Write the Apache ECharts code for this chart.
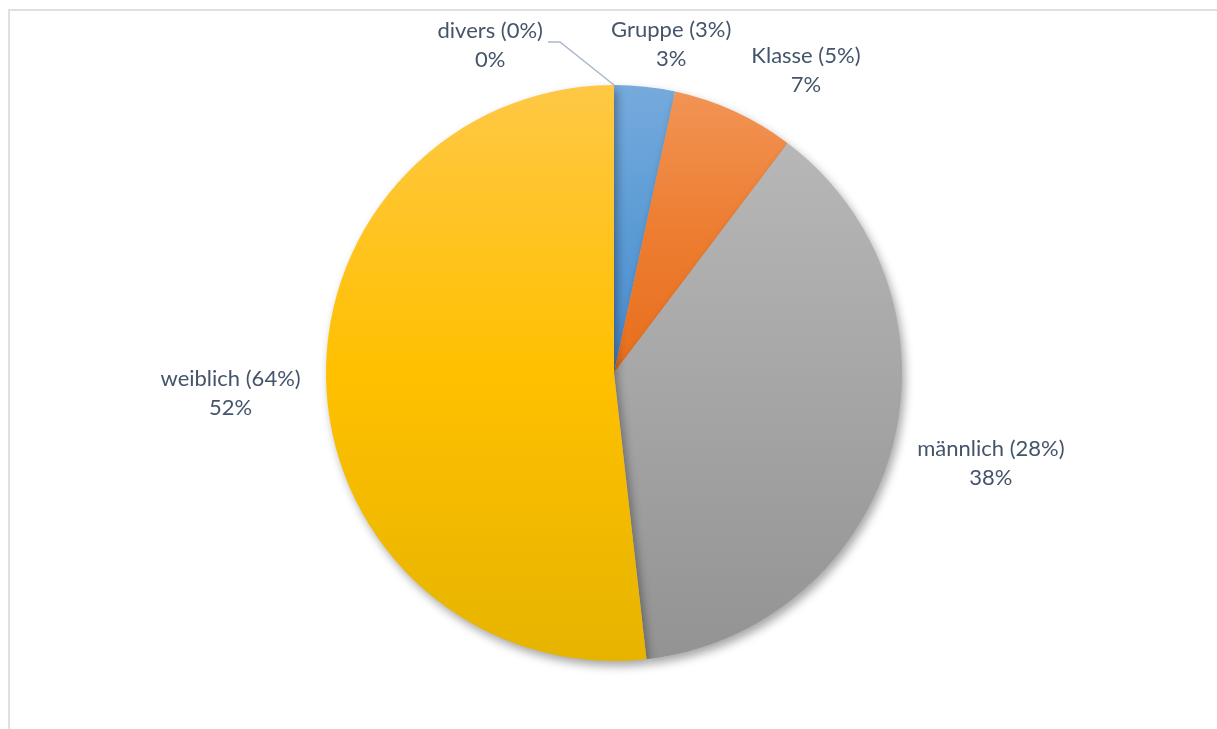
<!DOCTYPE html>
<html>
<head>
<meta charset="utf-8">
<title>Verteilung</title>
<script src="https://cdn.jsdelivr.net/npm/echarts@6/dist/echarts.min.js"></script>
<style>
  html, body { margin: 0; padding: 0; background: #fff; }
  #PieChart { width: 1217px; height: 729px; }
</style>
</head>
<body>
<div id="PieChart"></div>
<script>
/* 数据：分类名与数值 */
const categories = ['divers (0%)', 'Gruppe (3%)', 'Klasse (5%)', 'männlich (28%)', 'weiblich (64%)']
const values = [0, 3.4, 6.9, 37.9, 51.8]

/* 每个扇区的渐变色 [上, 中, 下] */
const sliceColors = [
  ['#76AADD', '#5B9BD5', '#4A8CD0'],
  ['#F29455', '#ED7D31', '#E86E1C'],
  ['#B7B7B7', '#A5A5A5', '#939393'],
  ['#FFC845', '#FFC000', '#E6B400']
]
// divers/Gruppe 蓝, Klasse 橙, männlich 灰, weiblich 黄
const colorIndex = [0, 0, 1, 2, 3]

/* 标签引导线长度 [length, length2]，只有 divers 显示引导线 */
const lineLens = [[43, 66], [42, 17], [45, 48], [55, 41], [74, 17]]

const gradient = c => new echarts.graphic.LinearGradient(0, 0, 0, 1, [
  { offset: 0, color: c[0] },
  { offset: 0.5, color: c[1] },
  { offset: 1, color: c[2] }
])

const seriesData = categories.map((name, i) => ({
  name: name,
  value: values[i],
  itemStyle: { color: gradient(sliceColors[colorIndex[i]]) },
  labelLine: {
    show: i === 0,
    length: lineLens[i][0],
    length2: lineLens[i][1]
  }
}))

const myChart = echarts.init(document.getElementById('PieChart'), null, { renderer: 'canvas' })
myChart.setOption({
  animation: false,
  /* 外框 */
  graphic: [
    {
      type: 'rect',
      shape: { x: 9, y: 10, width: 1400, height: 900 },
      style: { fill: 'none', stroke: '#DCE1E8', lineWidth: 2 },
      silent: true
    }
  ],
  series: [
    {
      type: 'pie',
      center: [614, 373],
      radius: 288,
      startAngle: 90.001,
      clockwise: true,
      percentPrecision: 0,
      avoidLabelOverlap: false,
      emphasis: { disabled: true },
      itemStyle: {
        borderWidth: 0,
        shadowBlur: 10,
        shadowOffsetX: 3,
        shadowOffsetY: 5,
        shadowColor: 'rgba(0, 0, 0, 0.35)'
      },
      label: {
        show: true,
        position: 'outside',
        formatter: '{b}\n{d}%',
        fontFamily: 'Lato',
        fontSize: 22,
        lineHeight: 29,
        color: '#44546A'
      },
      labelLine: {
        lineStyle: { color: '#A9B8CB', width: 1.5 }
      },
      // 文字居中；divers 引导线改成斜线
      labelLayout: params => {
        if (params.dataIndex === 0) {
          const pts = params.labelLinePoints
          const half = params.labelRect.width / 2
          if (!pts) return { align: 'center', dx: -half }
          const end = pts[2]
          return {
            align: 'center',
            dx: -half,
            dy: 3,
            labelLinePoints: [pts[0], [end[0] + 12, end[1]], end]
          }
        }
        return { align: 'center' }
      },
      data: seriesData
    }
  ]
})
</script>
</body>
</html>
